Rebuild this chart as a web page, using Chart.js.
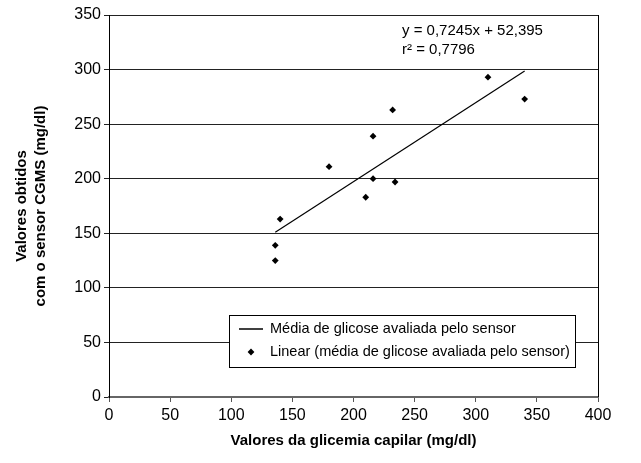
<!DOCTYPE html>
<html>
<head>
<meta charset="utf-8">
<script src="https://cdn.jsdelivr.net/npm/chart.js@4.4.1/dist/chart.umd.min.js"></script>
<style>
  html, body { margin: 0; padding: 0; background: #fff; }
  #wrap { width: 641px; height: 463px; position: relative; }
</style>
</head>
<body>
<div id="wrap"><canvas id="c" width="641" height="463"></canvas></div>
<script>
// ---- data ----
const capillaryValues = [136, 136, 140, 180, 210, 216, 216, 232, 234, 310, 340];
const sensorValues    = [139, 125, 163, 211, 183, 200, 239, 263, 197, 293, 273];
const trendSlope = 0.7245;
const trendIntercept = 52.395;
const trendRangeX = [136, 340];
const equationLines = ['y = 0,7245x + 52,395', 'r² = 0,7796'];
const legendLabels = ['Média de glicose avaliada pelo sensor', 'Linear (média de glicose avaliada pelo sensor)'];
const xAxisTitle = 'Valores da glicemia capilar (mg/dl)';
const yAxisTitle = ['Valores obtidos', 'com o sensor CGMS (mg/dl)'];

const FONT = "'Liberation Sans', Arial, sans-serif";

const scatterPts = capillaryValues.map((x, i) => ({ x: x, y: sensorValues[i] }));
const trendPts = trendRangeX.map(x => ({ x: x, y: trendSlope * x + trendIntercept }));

const extras = {
  id: 'extras',
  afterDraw(chart) {
    const ctx = chart.ctx;
    const a = chart.chartArea;
    ctx.save();
    // right border of plot
    ctx.strokeStyle = '#000';
    ctx.lineWidth = 1;
    ctx.beginPath();
    ctx.moveTo(a.right + 0.5, a.top);
    ctx.lineTo(a.right + 0.5, a.bottom);
    ctx.stroke();

    // equation text
    ctx.fillStyle = '#000';
    ctx.font = '15px ' + FONT;
    ctx.textBaseline = 'middle';
    ctx.textAlign = 'left';
    ctx.fillText(equationLines[0], a.left + 293, a.top + 16);
    ctx.fillText(equationLines[1], a.left + 293, a.top + 35);

    // legend box
    const bx = a.left + 120, by = a.top + 300, bw = 346, bh = 52;
    ctx.fillStyle = '#fff';
    ctx.fillRect(bx, by, bw, bh);
    ctx.strokeStyle = '#000';
    ctx.lineWidth = 1;
    ctx.strokeRect(bx + 0.5, by + 0.5, bw, bh);
    // entry 1: line
    ctx.beginPath();
    ctx.lineWidth = 1.5;
    ctx.moveTo(bx + 10, by + 14);
    ctx.lineTo(bx + 34, by + 14);
    ctx.stroke();
    // entry 2: diamond
    ctx.fillStyle = '#000';
    const dx = bx + 22, dy = by + 37, r = 3.4;
    ctx.beginPath();
    ctx.moveTo(dx, dy - r); ctx.lineTo(dx + r, dy); ctx.lineTo(dx, dy + r); ctx.lineTo(dx - r, dy);
    ctx.closePath(); ctx.fill();
    ctx.font = '14.5px ' + FONT;
    ctx.fillText(legendLabels[0], bx + 41, by + 14);
    ctx.fillText(legendLabels[1], bx + 41, by + 37);
    ctx.restore();
  }
};

new Chart(document.getElementById('c'), {
  type: 'scatter',
  data: {
    datasets: [
      {
        label: legendLabels[1],
        data: scatterPts,
        pointStyle: 'rectRot',
        pointRadius: 3.4,
        pointHoverRadius: 3.4,
        backgroundColor: '#000',
        borderColor: '#000',
        borderWidth: 0
      },
      {
        label: legendLabels[0],
        type: 'line',
        data: trendPts,
        borderColor: '#000',
        borderWidth: 1.2,
        pointRadius: 0,
        fill: false,
        showLine: true
      }
    ]
  },
  options: {
    responsive: false,
    animation: false,
    devicePixelRatio: 1,
    layout: { padding: { left: 0, top: 15, right: 43, bottom: 0 } },
    plugins: {
      legend: { display: false },
      tooltip: { enabled: false }
    },
    scales: {
      x: {
        type: 'linear',
        min: 0, max: 400,
        ticks: { stepSize: 50, color: '#000', font: { family: FONT, size: 16 }, padding: 4, maxRotation: 0 },
        grid: { drawOnChartArea: false, drawTicks: true, tickLength: 5, color: '#555' },
        border: { display: true, color: '#666', width: 2 },
        title: { display: true, text: xAxisTitle, color: '#000', font: { family: FONT, size: 15, weight: 'bold' }, padding: { top: 0, bottom: 13 } },
        afterFit(s) { s.height = 66; }
      },
      y: {
        type: 'linear',
        min: 0, max: 350,
        ticks: { stepSize: 50, color: '#000', font: { family: FONT, size: 16 }, padding: 3 },
        grid: { drawOnChartArea: true, drawTicks: true, tickLength: 5, color: '#222', lineWidth: 1 },
        border: { display: true, color: '#000', width: 1 },
        title: { display: true, text: yAxisTitle, color: '#000', font: { family: FONT, size: 15, weight: 'bold', lineHeight: 1.3 }, padding: { top: 12, bottom: 0 } },
        afterFit(s) { s.width = 109; }
      }
    }
  },
  plugins: [extras]
});
</script>
</body>
</html>
